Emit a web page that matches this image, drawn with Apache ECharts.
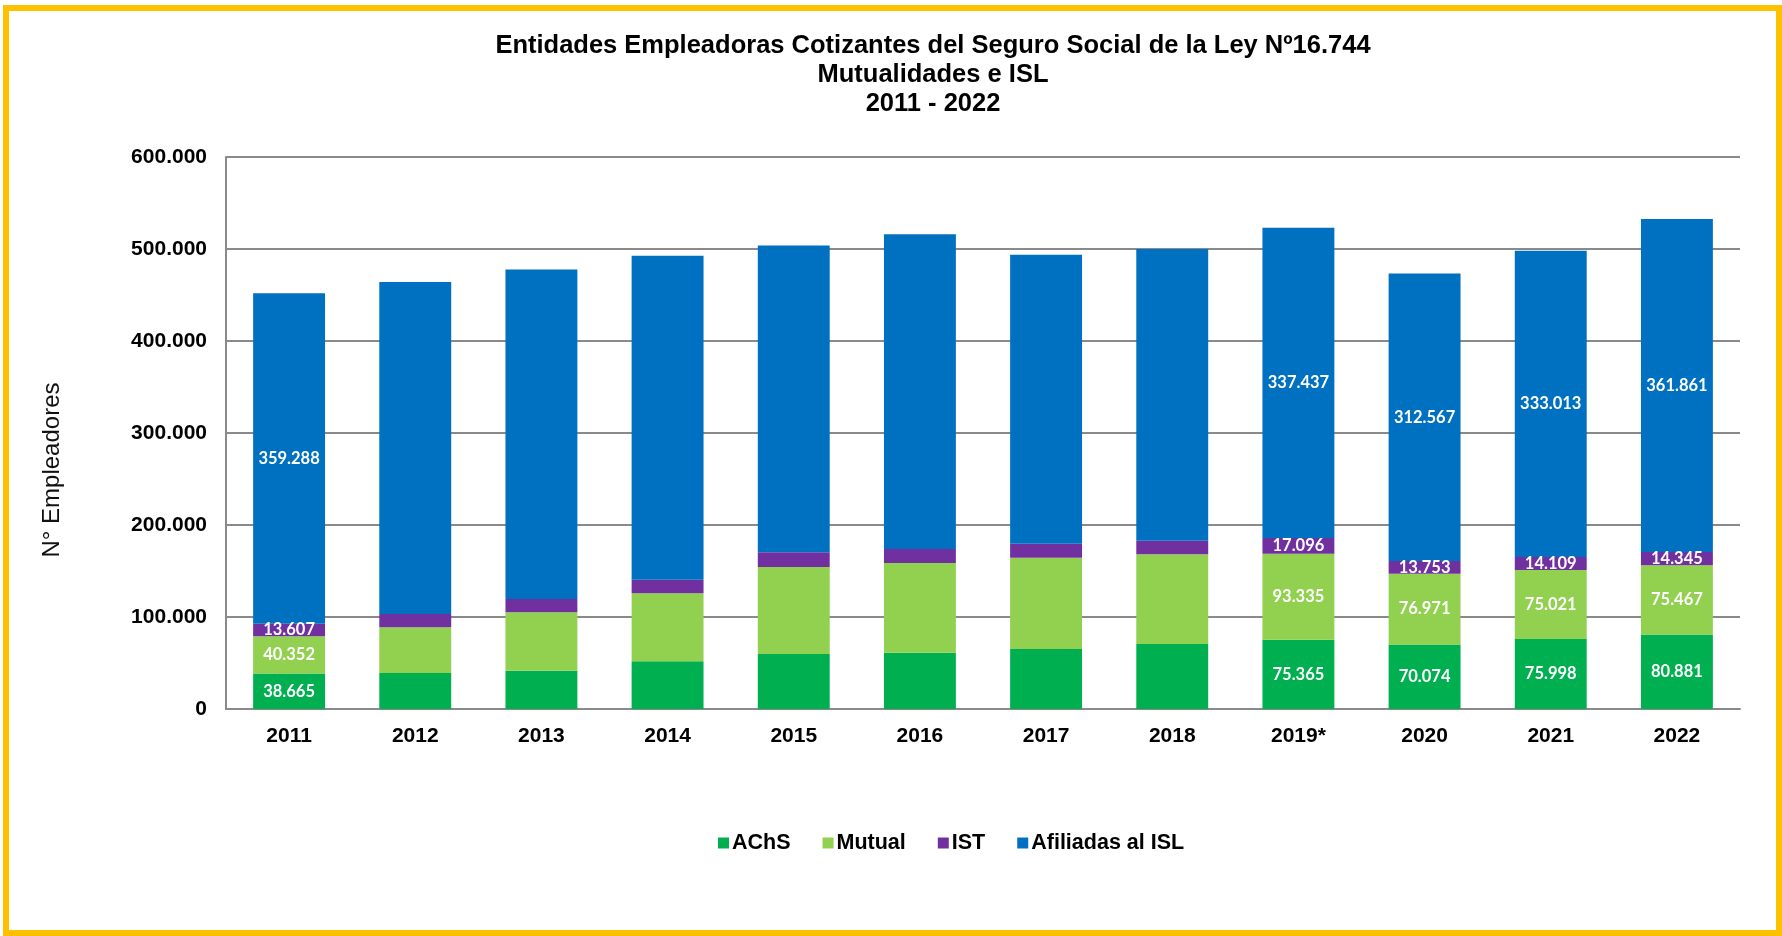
<!DOCTYPE html>
<html>
<head>
<meta charset="utf-8">
<script src="https://cdn.jsdelivr.net/npm/echarts@6/dist/echarts.min.js"></script>
<style>
html, body { margin: 0; padding: 0; background: #fff; }
#chart { width: 1782px; height: 936px; }
</style>
</head>
<body>
<div id="chart"></div>
<script>
// años y series (N° de entidades empleadoras)
var years = ['2011', '2012', '2013', '2014', '2015', '2016', '2017', '2018', '2019*', '2020', '2021', '2022'];
var achs = [38665, 39100, 41700, 51800, 59800, 61200, 65200, 70700, 75365, 70074, 75998, 80881];
var mutual = [40352, 49700, 63400, 73900, 94500, 97500, 99300, 97400, 93335, 76971, 75021, 75467];
var ist = [13607, 14500, 14500, 14900, 16000, 15200, 15200, 14900, 17096, 13753, 14109, 14345];
var isl = [359288, 360900, 358200, 352000, 333400, 342100, 314100, 317000, 337437, 312567, 333013, 361861];
var labeledYears = ['2011', '2019*', '2020', '2021', '2022']; // años con etiqueta de valor

var seriesNames = ['AChS', 'Mutual', 'IST', 'Afiliadas al ISL'];
var seriesColors = ['#00B050', '#92D050', '#7030A0', '#0070C0'];

var axisFont = 'Liberation Sans, Arial, sans-serif';
var gridColor = '#8a8a8a';

function fmt(v) {
  return String(v).replace(/\B(?=(\d{3})+(?!\d))/g, '.');
}

function makeData(vals) {
  return vals.map(function (v, i) {
    return { value: v, label: { show: labeledYears.indexOf(years[i]) >= 0 } };
  });
}

var chart = echarts.init(document.getElementById('chart'));

var series = [achs, mutual, ist, isl].map(function (vals, k) {
  return {
    name: seriesNames[k],
    type: 'bar',
    stack: 'total',
    barWidth: '57%',
    data: makeData(vals),
    itemStyle: { color: seriesColors[k] },
    label: {
      position: 'inside',
      color: '#fff',
      fontFamily: 'Lato, Open Sans, sans-serif',
      fontWeight: 'bold',
      fontSize: 16.5,
      formatter: function (p) { return fmt(p.value); }
    }
  };
});

chart.setOption({
  backgroundColor: '#fff',
  animation: false,
  title: {
    text: 'Entidades Empleadoras Cotizantes del Seguro Social de la Ley Nº16.744\nMutualidades e ISL\n2011 - 2022',
    left: 928,
    top: 26,
    textAlign: 'center',
    textStyle: {
      fontFamily: axisFont,
      fontWeight: 'bold',
      fontSize: 25.5,
      lineHeight: 29,
      color: '#000'
    }
  },
  grid: { //área de barras
    left: 226,
    right: 42,
    top: 157,
    bottom: 227
  },
  legend: {
    left: 718,
    top: 832,
    padding: 0,
    itemWidth: 11,
    itemHeight: 11,
    itemGap: 32,
    icon: 'rect',
    textStyle: {
      fontFamily: axisFont,
      fontWeight: 'bold',
      fontSize: 21.5,
      color: '#000',
      padding: [0, 0, 0, -2]
    },
    data: seriesNames
  },
  xAxis: {
    type: 'category',
    data: years,
    axisLine: { lineStyle: { color: gridColor, width: 2 } },
    axisTick: { show: false },
    axisLabel: {
      margin: 17,
      fontFamily: axisFont,
      fontWeight: 'bold',
      fontSize: 21,
      color: '#000'
    }
  },
  yAxis: {
    type: 'value',
    min: 0,
    max: 600000,
    interval: 100000,
    axisLine: { show: true, lineStyle: { color: gridColor, width: 2 } },
    axisTick: { show: false },
    axisLabel: {
      margin: 19,
      fontFamily: axisFont,
      fontWeight: 'bold',
      fontSize: 21,
      color: '#000',
      formatter: function (v) { return fmt(v); }
    },
    splitLine: { lineStyle: { color: gridColor, width: 2 } }
  },
  graphic: [
    { //marco amarillo
      type: 'rect',
      shape: { x: 6, y: 8, width: 1773, height: 925 },
      style: { fill: 'none', stroke: '#FFC000', lineWidth: 6 },
      silent: true
    },
    {
      type: 'text',
      x: 52,
      y: 470,
      rotation: Math.PI / 2,
      style: {
        text: 'N° Empleadores',
        fontFamily: axisFont,
        fontSize: 24,
        fill: '#111',
        textAlign: 'center',
        textVerticalAlign: 'middle'
      }
    }
  ],
  series: series
});
</script>
</body>
</html>
